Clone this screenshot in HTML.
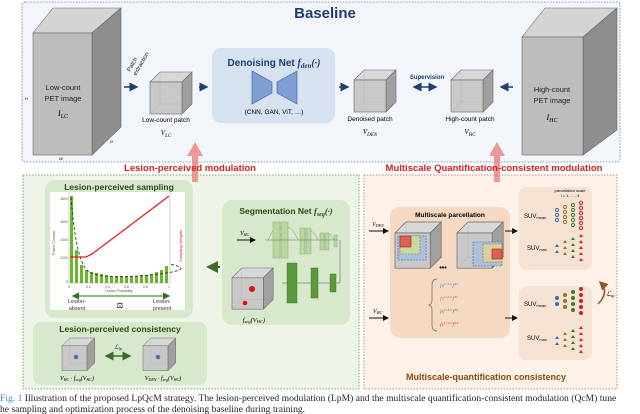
<!DOCTYPE html>
<html><head><meta charset="utf-8"><style>
html,body{margin:0;padding:0;background:#fff;}
svg{display:block;font-family:"Liberation Sans",sans-serif;}
</style></head><body>
<svg width="640" height="414" viewBox="0 0 640 414" xmlns="http://www.w3.org/2000/svg">
<defs>
<marker id="ah" markerWidth="6" markerHeight="6" refX="5" refY="3" orient="auto"><path d="M0,0L6,3L0,6z" fill="#1f3f6e"/></marker>
<marker id="ahb" markerWidth="6" markerHeight="6" refX="5" refY="3" orient="auto"><path d="M0,0L6,3L0,6z" fill="#111"/></marker>
<marker id="ahg" markerWidth="6" markerHeight="6" refX="5" refY="3" orient="auto"><path d="M0,0L6,3L0,6z" fill="#3a6b2a"/></marker>
<marker id="ahgs" markerWidth="6" markerHeight="6" refX="1" refY="3" orient="auto"><path d="M6,0L0,3L6,6z" fill="#3a6b2a"/></marker>
<marker id="ahs" markerWidth="6" markerHeight="6" refX="1" refY="3" orient="auto"><path d="M6,0L0,3L6,6z" fill="#1f3f6e"/></marker>
<marker id="aho" markerWidth="6" markerHeight="6" refX="1" refY="3" orient="auto"><path d="M6,0L0,3L6,6z" fill="#9a5020"/></marker>
<g id="cube"><path d="M0,10L10,0H42L32,10z" fill="#d8d8d8" stroke="#666" stroke-width=".6"/><path d="M32,10L42,0V32L32,42z" fill="#a0a0a0" stroke="#666" stroke-width=".6"/><rect x="0" y="10" width="32" height="32" fill="#c8c8c8" stroke="#666" stroke-width=".6"/><path d="M10,0V32H42M10,32L0,42" fill="none" stroke="#999" stroke-width=".4" stroke-dasharray="1,1"/></g>
</defs>
<rect x="22" y="2" width="598" height="160" rx="3" fill="#f2f6fb" stroke="#5a7aa8" stroke-dasharray="1.5,1.5" stroke-width=".8"/>
<text x="325" y="18" font-size="15" font-weight="bold" fill="#1f3f6e" text-anchor="middle">Baseline</text>
<path d="M33,33L53,8H121L92,33z" fill="#d4d4d4" stroke="#666" stroke-width=".6"/>
<path d="M92,33L121,8V127L92,155z" fill="#8e8e8e" stroke="#666" stroke-width=".6"/>
<rect x="33" y="33" width="59" height="122" fill="#bdbdbd" stroke="#666" stroke-width=".6"/>
<text x="63" y="90" font-size="7.5" text-anchor="middle" fill="#222">Low-count</text>
<text x="63" y="101" font-size="7.5" text-anchor="middle" fill="#222">PET image</text>
<text x="63" y="116" font-size="8" font-style="italic" font-family="Liberation Serif" text-anchor="middle">I<tspan font-size="6" dy="2">LC</tspan></text>
<text x="25" y="100" font-size="4" font-style="italic">H</text><text x="59" y="160" font-size="4" font-style="italic">W</text><text x="110" y="143" font-size="4" font-style="italic">D</text>
<text transform="translate(130,72) rotate(-60)" font-size="6" fill="#222">Patch</text>
<text transform="translate(136,76) rotate(-60)" font-size="6" fill="#222">extraction</text>
<line x1="124" y1="87" x2="137" y2="87" stroke="#1f3f6e" stroke-width="1.5" marker-end="url(#ah)"/>
<use href="#cube" x="150" y="72"/>
<text x="166" y="122" font-size="6.5" text-anchor="middle">Low-count patch</text>
<text x="166" y="135" font-size="7" font-style="italic" font-family="Liberation Serif" text-anchor="middle">V<tspan font-size="5" dy="2">LC</tspan></text>
<line x1="199" y1="87" x2="207" y2="87" stroke="#1f3f6e" stroke-width="1.5" marker-end="url(#ah)"/>
<rect x="212" y="48" width="123" height="75" rx="9" fill="#d6e2f0"/>
<text x="274" y="66" font-size="10" font-weight="bold" fill="#1f3f6e" text-anchor="middle">Denoising Net <tspan font-style="italic" font-family="Liberation Serif">f<tspan font-size="7" dy="2">den</tspan><tspan dy="-2">(·)</tspan></tspan></text>
<path d="M252,71L272,82V93L252,104z" fill="#7f9fd4" stroke="#3a5a9a" stroke-width=".6"/>
<path d="M297,71L277,82V93L297,104z" fill="#7f9fd4" stroke="#3a5a9a" stroke-width=".6"/>
<text x="274" y="114" font-size="6.5" text-anchor="middle">(CNN, GAN, ViT, …)</text>
<line x1="339" y1="87" x2="348" y2="87" stroke="#1f3f6e" stroke-width="1.5" marker-end="url(#ah)"/>
<use href="#cube" x="354" y="70"/>
<text x="370" y="121" font-size="6.5" text-anchor="middle">Denoised patch</text>
<text x="370" y="134" font-size="7" font-style="italic" font-family="Liberation Serif" text-anchor="middle">V<tspan font-size="5" dy="2">DEN</tspan></text>
<text x="427" y="79" font-size="6" font-weight="bold" fill="#1f3f6e" text-anchor="middle">Supervision</text>
<line x1="414" y1="87" x2="436" y2="87" stroke="#1f3f6e" stroke-width="1.5" marker-start="url(#ahs)" marker-end="url(#ah)"/>
<use href="#cube" x="451" y="70"/>
<text x="470" y="121" font-size="6.5" text-anchor="middle">High-count patch</text>
<text x="470" y="134" font-size="7" font-style="italic" font-family="Liberation Serif" text-anchor="middle">V<tspan font-size="5" dy="2">HC</tspan></text>
<line x1="513" y1="87" x2="501" y2="87" stroke="#1f3f6e" stroke-width="1.5" marker-end="url(#ah)"/>
<path d="M522,37L545,8H617L583,37z" fill="#d4d4d4" stroke="#666" stroke-width=".6"/>
<path d="M583,37L617,8V130L583,155z" fill="#8e8e8e" stroke="#666" stroke-width=".6"/>
<rect x="522" y="37" width="61" height="118" fill="#bdbdbd" stroke="#666" stroke-width=".6"/>
<text x="552" y="92" font-size="7.5" text-anchor="middle" fill="#222">High-count</text>
<text x="552" y="103" font-size="7.5" text-anchor="middle" fill="#222">PET image</text>
<text x="552" y="120" font-size="8" font-style="italic" font-family="Liberation Serif" text-anchor="middle">I<tspan font-size="6" dy="2">HC</tspan></text>
<rect x="23" y="175" width="336" height="214" fill="#eef5e8" stroke="#5a8a3a" stroke-dasharray="1.5,1.5" stroke-width=".8"/>
<rect x="364" y="175" width="253" height="214" fill="#fdf1e8" stroke="#b07040" stroke-dasharray="1.5,1.5" stroke-width=".8"/>
<path d="M192,182V156H187L195,142L203,156H198V182z" fill="#e8908c" opacity=".9"/>
<path d="M494,182V156H489L497,142L505,156H500V182z" fill="#e8908c" opacity=".9"/>
<text x="190" y="171" font-size="9.5" font-weight="bold" fill="#d42020" text-anchor="middle">Lesion-perceived modulation</text>
<text x="494" y="171" font-size="9.5" font-weight="bold" fill="#d42020" text-anchor="middle">Multiscale Quantification-consistent modulation</text>
<rect x="45" y="180" width="148" height="138" rx="10" fill="#d8e8cc"/>
<text x="119" y="190" font-size="8.5" font-weight="bold" fill="#2a4a1a" text-anchor="middle">Lesion-perceived sampling</text>
<rect x="50" y="192" width="135" height="118" fill="#fff"/>
<g fill="#6ab82a"><rect x="70" y="196" width="3" height="87"/><rect x="75" y="250" width="3" height="33"/><rect x="80" y="265" width="3" height="18"/><rect x="85" y="270" width="3" height="13"/><rect x="90" y="272" width="3" height="11"/><rect x="95" y="273" width="3" height="10"/><rect x="100" y="274" width="3" height="9"/><rect x="105" y="275" width="3" height="8"/><rect x="110" y="276" width="3" height="7"/><rect x="115" y="276" width="3" height="7"/><rect x="120" y="276" width="3" height="7"/><rect x="125" y="276" width="3" height="7"/><rect x="130" y="276" width="3" height="7"/><rect x="135" y="276" width="3" height="7"/><rect x="140" y="275" width="3" height="8"/><rect x="145" y="275" width="3" height="8"/><rect x="150" y="274" width="3" height="9"/><rect x="155" y="272" width="3" height="11"/><rect x="160" y="270" width="3" height="13"/><rect x="165" y="266" width="3" height="17"/></g>
<path d="M71,197Q76,262 88,271T150,275T169,264" fill="none" stroke="#222" stroke-dasharray="3,2" stroke-width=".8"/>
<path d="M70,257H86L92,254L169,196" fill="none" stroke="#e02020" stroke-width="1.3"/>
<path d="M69,192V283H170V192" fill="none" stroke="#888" stroke-width=".4"/>
<g font-size="3.5" fill="#555"><text x="60" y="200">4800</text><text x="60" y="223">3600</text><text x="60" y="241">2400</text><text x="60" y="259">1200</text><text x="66" y="283">0</text>
<text x="68" y="288">0</text><text x="86" y="288">0.2</text><text x="105" y="288">0.4</text><text x="124" y="288">0.6</text><text x="143" y="288">0.8</text><text x="168" y="288">1</text></g>
<text x="119" y="292" font-size="3.5" text-anchor="middle" fill="#555">Lesion Probability</text>
<text transform="translate(55,255) rotate(-90)" font-size="4" fill="#555">Patch Counts</text>
<text transform="translate(182,262) rotate(-90)" font-size="4" fill="#e02020">Sampling Weights</text>
<line x1="73" y1="296" x2="169" y2="296" stroke="#4a9a2a" stroke-width="1.2" marker-start="url(#ahgs)" marker-end="url(#ahg)"/>
<text x="77" y="303" font-size="5.5" fill="#333" text-anchor="middle">Lesion-</text><text x="77" y="310" font-size="5.5" fill="#333" text-anchor="middle">absent</text>
<text x="162" y="303" font-size="5.5" fill="#333" text-anchor="middle">Lesion-</text><text x="162" y="310" font-size="5.5" fill="#333" text-anchor="middle">present</text>
<text x="120" y="308" font-size="8" text-anchor="middle">⚖</text>
<rect x="33" y="322" width="174" height="63" rx="8" fill="#d8e8cc"/>
<text x="120" y="332" font-size="8.5" font-weight="bold" fill="#2a4a1a" text-anchor="middle">Lesion-perceived consistency</text>
<use href="#cube" transform="translate(62,338) scale(.78)"/>
<circle cx="76" cy="357" r="2.3" fill="#38c"/><circle cx="76" cy="357" r="1" fill="#e22"/>
<use href="#cube" transform="translate(143,338) scale(.78)"/>
<circle cx="158" cy="357" r="2.3" fill="#38c"/><circle cx="158" cy="357" r="1" fill="#e22"/>
<line x1="106" y1="356" x2="130" y2="356" stroke="#3a6b2a" stroke-width="1.5" marker-start="url(#ahgs)" marker-end="url(#ahg)"/>
<text x="118" y="349" font-size="6" font-style="italic" font-family="Liberation Serif" text-anchor="middle">ℒ<tspan font-size="4" dy="1">lp</tspan></text>
<text x="77" y="380" font-size="6" font-style="italic" font-family="Liberation Serif" text-anchor="middle">V<tspan font-size="4" dy="1">HC</tspan><tspan dy="-1"> · f</tspan><tspan font-size="4" dy="1">seg</tspan><tspan dy="-1">(V</tspan><tspan font-size="4" dy="1">HC</tspan><tspan dy="-1">)</tspan></text>
<text x="163" y="380" font-size="6" font-style="italic" font-family="Liberation Serif" text-anchor="middle">V<tspan font-size="4" dy="1">DEN</tspan><tspan dy="-1"> · f</tspan><tspan font-size="4" dy="1">seg</tspan><tspan dy="-1">(V</tspan><tspan font-size="4" dy="1">HC</tspan><tspan dy="-1">)</tspan></text>
<line x1="220" y1="267" x2="208" y2="267" stroke="#3a6b2a" stroke-width="2" marker-end="url(#ahg)"/>
<rect x="222" y="200" width="128" height="125" rx="10" fill="#d8e8cc"/>
<text x="286" y="214" font-size="8.5" font-weight="bold" fill="#2a4a1a" text-anchor="middle">Segmentation Net <tspan font-style="italic" font-family="Liberation Serif">f<tspan font-size="6" dy="2">seg</tspan><tspan dy="-2">(·)</tspan></tspan></text>
<text x="240" y="235" font-size="6" font-style="italic" font-family="Liberation Serif">V<tspan font-size="4" dy="1">HC</tspan></text>
<line x1="237" y1="240" x2="255" y2="240" stroke="#111" stroke-width="1" marker-end="url(#ahb)"/>
<g fill="none" stroke="#7a9a6a" stroke-width=".5"><path d="M268,240Q278,215 288,240M278,240Q288,215 298,240M302,240Q310,222 318,240M322,240Q328,228 334,240"/></g>
<g fill="#b8d8a0" stroke="#7a9a6a" stroke-width=".4"><rect x="273" y="222" width="7" height="36"/><rect x="281" y="222" width="7" height="36"/><rect x="300" y="228" width="5" height="26"/><rect x="306" y="228" width="5" height="26"/><rect x="320" y="233" width="4" height="17"/><rect x="325" y="233" width="4" height="17"/><rect x="334" y="235" width="3" height="12"/></g>
<g fill="#5a9a3a" stroke="#3a6b2a" stroke-width=".4"><rect x="287" y="263" width="10" height="40"/><rect x="311" y="268" width="7" height="30"/><rect x="330" y="274" width="6" height="18"/></g>
<path d="M340,240V283H336M330,283H318M311,283H297M287,283H282" fill="none" stroke="#555" stroke-width=".5"/>
<line x1="265" y1="240" x2="338" y2="240" stroke="#555" stroke-width=".4"/>
<use href="#cube" transform="translate(232,268) scale(.98)"/>
<circle cx="252" cy="289" r="3" fill="#d11"/><circle cx="245" cy="303" r="2.3" fill="#d11"/>
<text x="254" y="322" font-size="6.5" font-style="italic" font-family="Liberation Serif" text-anchor="middle">f<tspan font-size="4.5" dy="1">seg</tspan><tspan dy="-1">(V</tspan><tspan font-size="4.5" dy="1">HC</tspan><tspan dy="-1">)</tspan></text>
<text x="372" y="226" font-size="6" font-style="italic" font-family="Liberation Serif">V<tspan font-size="4" dy="1">DEN</tspan></text>
<line x1="369" y1="231" x2="388" y2="231" stroke="#111" marker-end="url(#ahb)"/>
<text x="373" y="313" font-size="6" font-style="italic" font-family="Liberation Serif">V<tspan font-size="4" dy="1">HC</tspan></text>
<line x1="369" y1="318" x2="388" y2="318" stroke="#111" marker-end="url(#ahb)"/>
<rect x="390" y="207" width="120" height="131" rx="10" fill="#f5d9c3"/>
<text x="450" y="217" font-size="6.5" font-weight="bold" text-anchor="middle">Multiscale parcellation</text>
<use href="#cube" transform="translate(395,222) scale(1.1)"/>
<rect x="398" y="236" width="28" height="24" fill="#a8c0e0" stroke="#3a5a9a" stroke-dasharray="2,1" stroke-width=".6" opacity=".9"/>
<rect x="400" y="236" width="20" height="18" fill="#c8d8a0" stroke="#8a7a20" stroke-dasharray="2,1" stroke-width=".6"/>
<rect x="400" y="236" width="11" height="11" fill="#e06050" stroke="#a02020" stroke-width=".6"/>
<text x="443" y="270" font-size="7" font-weight="bold" text-anchor="middle">•••</text>
<use href="#cube" transform="translate(457,222) scale(1.1)"/>
<rect x="473" y="242" width="29" height="24" fill="#a8c0e0" stroke="#3a5a9a" stroke-dasharray="2,1" stroke-width=".6" opacity=".9"/>
<rect x="483" y="244" width="19" height="18" fill="#d8d0a0" stroke="#8a7a20" stroke-dasharray="2,1" stroke-width=".6"/>
<rect x="492" y="249" width="10" height="10" fill="#e06050" stroke="#a02020" stroke-width=".6"/>
<path d="M437,279Q432,279 432,285V300Q432,304 429,305Q432,306 432,310V325Q432,331 437,331" fill="none" stroke="#666" stroke-width=".7"/>
<g font-size="5" font-style="italic" font-family="Liberation Serif"><text x="440" y="287" fill="#3a6ab0">{v<tspan font-size="3.5" dy="-2">l=1,n</tspan><tspan dy="2">}</tspan><tspan font-size="3.5" dy="-2">N1</tspan></text><text x="440" y="300" fill="#8a7a20">{v<tspan font-size="3.5" dy="-2">l=2,n</tspan><tspan dy="2">}</tspan><tspan font-size="3.5" dy="-2">N2</tspan></text><text x="440" y="313" fill="#3a7a2a">{v<tspan font-size="3.5" dy="-2">l=3,n</tspan><tspan dy="2">}</tspan><tspan font-size="3.5" dy="-2">N3</tspan></text><text x="440" y="326" fill="#e02020">{v<tspan font-size="3.5" dy="-2">l=4,n</tspan><tspan dy="2">}</tspan><tspan font-size="3.5" dy="-2">N4</tspan></text></g>
<line x1="505" y1="231" x2="517" y2="231" stroke="#111" marker-end="url(#ahb)"/>
<line x1="505" y1="318" x2="517" y2="318" stroke="#111" marker-end="url(#ahb)"/>
<rect x="519" y="187" width="73" height="83" rx="8" fill="#f5e2d2"/>
<rect x="519" y="286" width="73" height="74" rx="8" fill="#f5e2d2"/>
<text x="570" y="192" font-size="4" text-anchor="middle">parcellation scale</text>
<text x="570" y="197" font-size="4" text-anchor="middle">l = 1, …, 4</text>
<g font-size="6"><text x="524" y="218">SUV<tspan font-size="4" dy="1">mean</tspan></text><text x="527" y="250">SUV<tspan font-size="4" dy="1">max</tspan></text><text x="524" y="306">SUV<tspan font-size="4" dy="1">mean</tspan></text><text x="527" y="340">SUV<tspan font-size="4" dy="1">max</tspan></text></g>
<g fill="none" stroke-width="1"><g stroke="#3a6ab0"><circle cx="557" cy="210" r="1.6"/><circle cx="557" cy="215" r="1.6"/><circle cx="557" cy="220" r="1.6"/></g><g stroke="#8a7a20"><circle cx="565" cy="207" r="1.6"/><circle cx="565" cy="212" r="1.6"/><circle cx="565" cy="217" r="1.6"/><circle cx="565" cy="222" r="1.6"/></g><g stroke="#3a7a2a"><circle cx="573" cy="205" r="1.6"/><circle cx="573" cy="210" r="1.6"/><circle cx="573" cy="215" r="1.6"/><circle cx="573" cy="220" r="1.6"/><circle cx="573" cy="225" r="1.6"/></g><g stroke="#d02020"><circle cx="581" cy="203" r="1.6"/><circle cx="581" cy="208" r="1.6"/><circle cx="581" cy="213" r="1.6"/><circle cx="581" cy="218" r="1.6"/><circle cx="581" cy="223" r="1.6"/><circle cx="581" cy="228" r="1.6"/></g></g>
<g><g fill="#3a6ab0"><circle cx="557" cy="298" r="2"/><circle cx="557" cy="304" r="2"/></g><g fill="#8a7a20"><circle cx="565" cy="295" r="2"/><circle cx="565" cy="301" r="2"/><circle cx="565" cy="307" r="2"/></g><g fill="#3a7a2a"><circle cx="573" cy="292" r="2"/><circle cx="573" cy="298" r="2"/><circle cx="573" cy="304" r="2"/><circle cx="573" cy="310" r="2"/></g><g fill="#d02020"><circle cx="581" cy="289" r="2"/><circle cx="581" cy="295" r="2"/><circle cx="581" cy="301" r="2"/><circle cx="581" cy="307" r="2"/><circle cx="581" cy="313" r="2"/></g></g>
<g id="tri1"><path d="M555,247l2,-3l2,3z M555,253l2,-3l2,3z" fill="#3a6ab0"/><path d="M563,243l2,-3l2,3z M563,249l2,-3l2,3z M563,255l2,-3l2,3z" fill="#8a7a20"/><path d="M571,240l2,-3l2,3z M571,246l2,-3l2,3z M571,252l2,-3l2,3z M571,258l2,-3l2,3z" fill="#3a7a2a"/><path d="M579,237l2,-3l2,3z M579,243l2,-3l2,3z M579,249l2,-3l2,3z M579,255l2,-3l2,3z M579,261l2,-3l2,3z" fill="#d02020"/></g>
<use href="#tri1" y="92"/>
<path d="M600,282Q610,292 598,304" fill="none" stroke="#9a5020" stroke-width="1.5" marker-start="url(#aho)"/>
<text x="606" y="296" font-size="7" font-style="italic" font-family="Liberation Serif">ℒ<tspan font-size="4.5" dy="1">qc</tspan></text>
<text x="486" y="380" font-size="9" font-weight="bold" fill="#8a4a10" text-anchor="middle">Multiscale-quantification consistency</text>
<text x="0" y="401" font-size="9.6" font-family="Liberation Serif" fill="#222"><tspan fill="#3a8ad0">Fig. 1</tspan> Illustration of the proposed LpQcM strategy. The lesion-perceived modulation (LpM) and the multiscale quantification-consistent modulation (QcM) tune</text>
<text x="0" y="412" font-size="9.6" font-family="Liberation Serif" fill="#222">he sampling and optimization process of the denoising baseline during training.</text>
</svg>
</body></html>
